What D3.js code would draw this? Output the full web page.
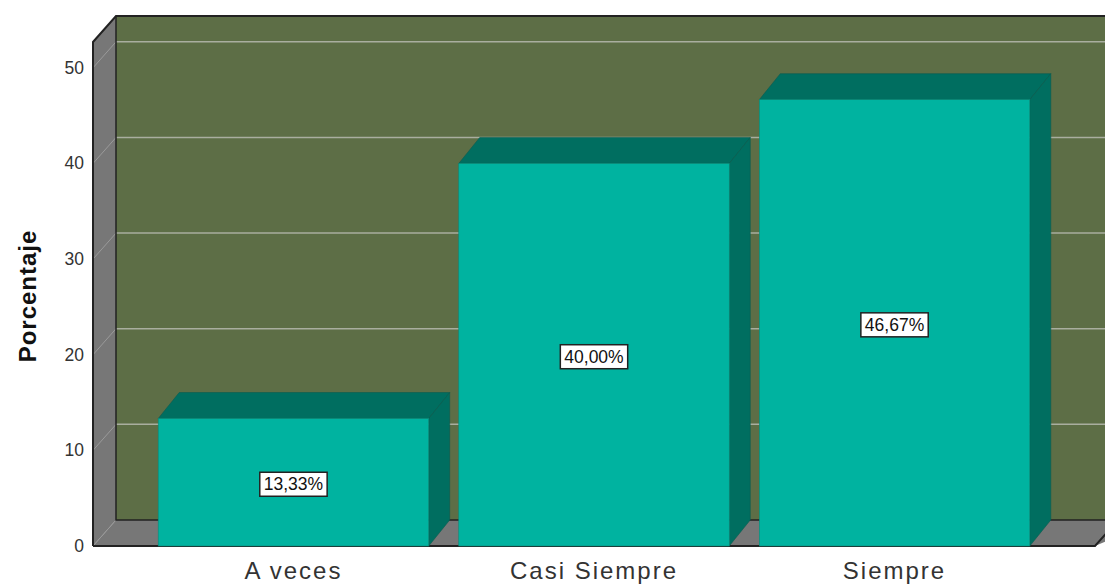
<!DOCTYPE html>
<html><head><meta charset="utf-8">
<script src="https://cdn.jsdelivr.net/npm/d3@7"></script>
<style>body{margin:0;background:#fff}svg{display:block}</style>
</head><body>
<script>
const categories = ["A veces", "Casi Siempre", "Siempre"];
const values = [13.33, 40.00, 46.67];
const valueLabels = ["13,33%", "40,00%", "46,67%"];
const yTicks = [0, 10, 20, 30, 40, 50];
const yTitle = "Porcentaje";

const W = 1105, H = 585;
const dx = 23, dy = -26; // depth offset
const x0 = 93, x1 = 1095, yBase = 546, yTopFront = 42;
const font = "Liberation Sans, Arial, sans-serif";

const svg = d3.select("body").append("svg").attr("width", W).attr("height", H);

const y = d3.scaleLinear().domain([0, 52.7]).range([yBase, yTopFront]);
const x = d3.scaleBand().domain(categories).range([x0, x1]).paddingInner(0.1).paddingOuter(0.217);

const wallC = "#5d6e46", sideC = "#777777", gridC = "#a9ae9f", edge = "#222";

// back wall
svg.append("rect").attr("x", x0 + dx).attr("y", yTopFront + dy).attr("width", W).attr("height", yBase - yTopFront)
  .attr("fill", wallC);
// side wall
svg.append("polygon").attr("points", [[x0, yBase], [x0 + dx, yBase + dy], [x0 + dx, yTopFront + dy], [x0, yTopFront]].join(" "))
  .attr("fill", sideC);
// floor
svg.append("polygon").attr("points", [[x0, yBase], [x0 + dx, yBase + dy], [x1 + dx + 40, yBase + dy], [x1, yBase]].join(" "))
  .attr("fill", sideC);

// gridlines
const g = svg.append("g");
yTicks.filter(t => t > 0).forEach(t => {
  g.append("line").attr("x1", x0 + dx).attr("x2", W).attr("y1", y(t) + dy).attr("y2", y(t) + dy)
    .attr("stroke", gridC).attr("stroke-width", 1.5);
  g.append("line").attr("x1", x0).attr("x2", x0 + dx).attr("y1", y(t)).attr("y2", y(t) + dy)
    .attr("stroke", "#9a9a9a").attr("stroke-width", 1);
});
g.append("line").attr("x1", x0).attr("x2", x0 + dx).attr("y1", yBase).attr("y2", yBase + dy)
  .attr("stroke", "#9a9a9a").attr("stroke-width", 1);

// edges
const ed = svg.append("g").attr("fill", "none").attr("stroke", edge).attr("stroke-width", 2);
ed.append("path").attr("d", `M${x0},${yBase}L${x0},${yTopFront}L${x0 + dx},${yTopFront + dy}L${W},${yTopFront + dy}`);
ed.append("path").attr("d", `M${x0 + dx},${yTopFront + dy}L${x0 + dx},${yBase + dy}L${x1 + dx + 40},${yBase + dy}`).attr("stroke-width", 1.5);
ed.append("path").attr("d", `M${x0},${yBase}L${x1},${yBase}L${x1 + dx},${yBase + dy}`);

// bars
const frontC = "#00b3a0", darkC = "#006e60";
const bars = svg.append("g");
categories.forEach((c, i) => {
  const bx = x(c), bw = x.bandwidth(), by = y(values[i]);
  bars.append("polygon").attr("points", [[bx, by], [bx + dx - 2, by + dy], [bx + bw + dx - 2, by + dy], [bx + bw, by]].join(" "))
    .attr("fill", darkC).attr("stroke", "#0a5d50").attr("stroke-width", 0.6);
  bars.append("polygon").attr("points", [[bx + bw, by], [bx + bw + dx - 2, by + dy], [bx + bw + dx - 2, yBase + dy], [bx + bw, yBase]].join(" "))
    .attr("fill", darkC).attr("stroke", "#0a5d50").attr("stroke-width", 0.6);
  bars.append("rect").attr("x", bx).attr("y", by).attr("width", bw).attr("height", yBase - by)
    .attr("fill", frontC).attr("stroke", "#0a8a7a").attr("stroke-width", 0.6);
});

// value labels
categories.forEach((c, i) => {
  const cx = x(c) + x.bandwidth() / 2, cy = (y(values[i]) + yBase) / 2 + 2;
  const t = svg.append("text").attr("x", cx).attr("y", cy).attr("text-anchor", "middle").attr("dominant-baseline", "central")
    .attr("font-family", font).attr("font-size", 17.5).attr("fill", "#111").text(valueLabels[i]);
  const bb = t.node().getBBox();
  svg.insert("rect", () => t.node()).attr("x", bb.x - 4).attr("y", bb.y - 2).attr("width", bb.width + 8).attr("height", bb.height + 4)
    .attr("fill", "#fff").attr("stroke", "#222").attr("stroke-width", 1.5);
});

// y axis labels
svg.append("g").selectAll("text").data(yTicks).join("text")
  .attr("x", 84).attr("y", d => y(d)).attr("text-anchor", "end").attr("dominant-baseline", "central")
  .attr("font-family", font).attr("font-size", 17.5).attr("fill", "#333").text(d => d);

// x axis labels
svg.append("g").selectAll("text").data(categories).join("text")
  .attr("x", d => x(d) + x.bandwidth() / 2).attr("y", 579).attr("text-anchor", "middle")
  .attr("font-family", font).attr("font-size", 24).attr("letter-spacing", 2).attr("fill", "#333").text(d => d);

// y title
svg.append("text").attr("transform", `translate(36,296) rotate(-90)`).attr("text-anchor", "middle")
  .attr("font-family", font).attr("font-size", 24).attr("letter-spacing", 1).attr("font-weight", "bold").attr("fill", "#111").text(yTitle);
</script>
</body></html>
